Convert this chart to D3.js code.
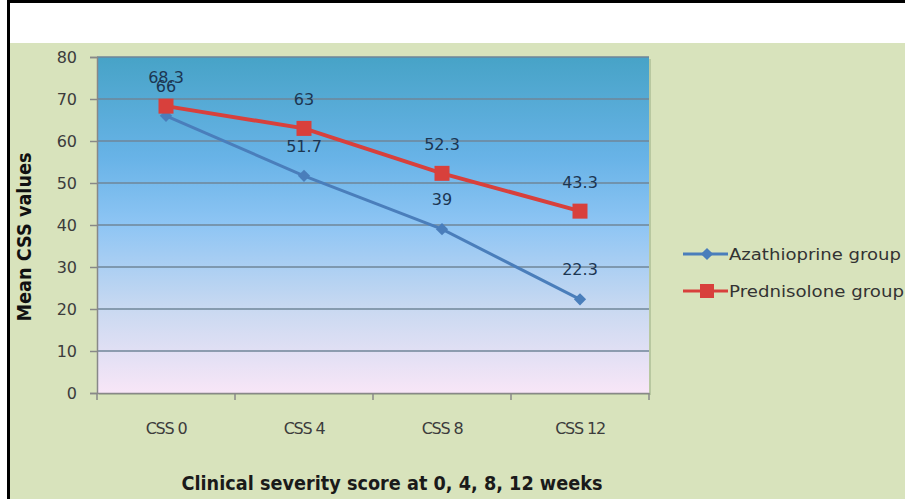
<!DOCTYPE html>
<html><head><meta charset="utf-8">
<script src="https://cdn.jsdelivr.net/npm/d3@7"></script>
<style>body{margin:0;background:#fff}svg{display:block}</style>
</head><body>
<svg id="c" width="905" height="499"></svg>
<script>
const categories = ["CSS 0", "CSS 4", "CSS 8", "CSS 12"];
const azathioprine = [66, 51.7, 39, 22.3];
const prednisolone = [68.3, 63, 52.3, 43.3];
const yTicks = [0, 10, 20, 30, 40, 50, 60, 70, 80];
const seriesNames = ["Azathioprine group", "Prednisolone group"];

const svg = d3.select("#c");
const font = "'DejaVu Sans', Verdana, sans-serif";
// frame
svg.append("rect").attr("x",0).attr("y",0).attr("width",905).attr("height",499).attr("fill","#fff");
svg.append("rect").attr("x",10).attr("y",43).attr("width",895).attr("height",456).attr("fill","#d8e3bc");
svg.append("rect").attr("x",7).attr("y",0).attr("width",3).attr("height",499).attr("fill","#000");
svg.append("rect").attr("x",7).attr("y",0).attr("width",898).attr("height",3).attr("fill","#000");

const L=97, R=649, T=57, B=393;
const x = d3.scaleBand().domain(categories).range([L,R]);
const y = d3.scaleLinear().domain([0,80]).range([B,T]);

const defs = svg.append("defs");
const g = defs.append("linearGradient").attr("id","pg").attr("x1",0).attr("y1",0).attr("x2",0).attr("y2",1);
[[0,"#47a3c7"],[0.3,"#68b3e7"],[0.5,"#8ec5f4"],[0.75,"#c9d9f1"],[1,"#f8e6f7"]].forEach(([o,c])=>g.append("stop").attr("offset",o).attr("stop-color",c));

svg.append("rect").attr("x",L+2).attr("y",T+2).attr("width",R-L).attr("height",B-T).attr("fill","#b8c8a0");
svg.append("rect").attr("x",L).attr("y",T).attr("width",R-L).attr("height",B-T).attr("fill","url(#pg)");

// gridlines
svg.append("g").selectAll("line").data(yTicks.filter(d=>d>0)).join("line")
  .attr("x1",L).attr("x2",R).attr("y1",d=>y(d)).attr("y2",d=>y(d))
  .attr("stroke","#6f8698").attr("stroke-width",1.5);

// y axis
const ya = svg.append("g").attr("transform",`translate(${L},0)`)
  .call(d3.axisLeft(y).tickValues(yTicks).tickSize(7).tickPadding(13));
ya.select(".domain").attr("stroke","#888").attr("stroke-width",1.5);
ya.selectAll(".tick line").attr("stroke","#888").attr("stroke-width",1.5);
ya.selectAll("text").attr("font-family",font).attr("font-size",16).attr("fill","#3c3c3c");

// x axis
const xa = svg.append("g").attr("transform",`translate(0,${B})`)
  .call(d3.axisBottom(x).tickSize(0).tickPadding(30));
xa.select(".domain").attr("stroke","#888").attr("stroke-width",1.5);
xa.selectAll("text").attr("font-family",font).attr("font-size",16).attr("fill","#3c3c3c")
  .attr("letter-spacing",-1.2);
svg.append("g").selectAll("line").data(d3.range(categories.length+1)).join("line")
  .attr("x1",i=>L+i*x.step()).attr("x2",i=>L+i*x.step()).attr("y1",B).attr("y2",B+7)
  .attr("stroke","#888").attr("stroke-width",1.5);

const cx = c => x(c)+x.bandwidth()/2;
const line = d3.line().x((d,i)=>cx(categories[i])).y(d=>y(d));

svg.append("path").datum(azathioprine).attr("d",line).attr("fill","none").attr("stroke","#4a7ebb").attr("stroke-width",3);
svg.append("path").datum(prednisolone).attr("d",line).attr("fill","none").attr("stroke","#d8403c").attr("stroke-width",4);

const diamond = d3.symbol().type(d3.symbolDiamond2).size(95);
svg.append("g").selectAll("path").data(azathioprine).join("path")
  .attr("d",diamond).attr("transform",(d,i)=>`translate(${cx(categories[i])},${y(d)})`).attr("fill","#4a7ebb");
svg.append("g").selectAll("rect").data(prednisolone).join("rect")
  .attr("x",(d,i)=>cx(categories[i])-7.5).attr("y",d=>y(d)-7.5).attr("width",15).attr("height",15).attr("fill","#d8403c");

const lbl = (data, dy) => svg.append("g").selectAll("text").data(data).join("text")
  .attr("x",(d,i)=>cx(categories[i])).attr("y",d=>y(d)+dy).attr("text-anchor","middle")
  .attr("font-family",font).attr("font-size",16).attr("fill","#1c3652").text(d=>d);
lbl(azathioprine,-24);
lbl(prednisolone,-23);

// titles
svg.append("text").attr("transform",`translate(31,237) rotate(-90)`).attr("text-anchor","middle")
  .attr("font-family",font).attr("font-size",19).attr("font-weight","bold").attr("fill","#111")
  .attr("textLength",169).attr("lengthAdjust","spacingAndGlyphs").text("Mean CSS values");
svg.append("text").attr("x",392).attr("y",490).attr("text-anchor","middle")
  .attr("font-family",font).attr("font-size",19).attr("font-weight","bold").attr("fill","#1a1a1a")
  .attr("textLength",421).attr("lengthAdjust","spacingAndGlyphs").text("Clinical severity score at 0, 4, 8, 12 weeks");

// legend
const leg = [{n:seriesNames[0],c:"#4a7ebb",t:"d",y:254,w:172},{n:seriesNames[1],c:"#d8403c",t:"s",y:291,w:175}];
leg.forEach(l=>{
  svg.append("line").attr("x1",683).attr("x2",728).attr("y1",l.y).attr("y2",l.y).attr("stroke",l.c).attr("stroke-width",3);
  if(l.t==="d") svg.append("path").attr("d",diamond).attr("transform",`translate(707,${l.y})`).attr("fill",l.c);
  else svg.append("rect").attr("x",700).attr("y",l.y-7).attr("width",14).attr("height",14).attr("fill",l.c);
  svg.append("text").attr("x",729).attr("y",l.y+6).attr("font-family",font).attr("font-size",16.5).attr("fill","#333")
    .attr("textLength",l.w).attr("lengthAdjust","spacingAndGlyphs").text(l.n);
});
</script>
</body></html>
